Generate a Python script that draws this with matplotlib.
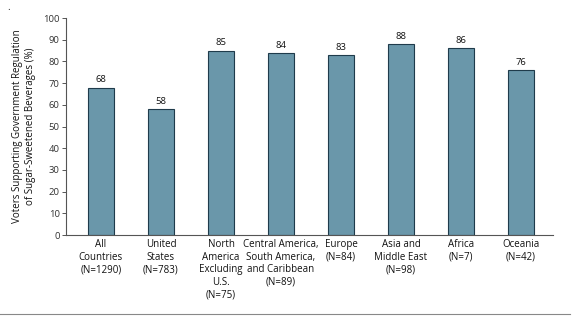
import matplotlib
matplotlib.use("Agg")
import matplotlib.pyplot as plt
from matplotlib.lines import Line2D

categories = [
    "All\nCountries\n(N=1290)",
    "United\nStates\n(N=783)",
    "North\nAmerica\nExcluding\nU.S.\n(N=75)",
    "Central America,\nSouth America,\nand Caribbean\n(N=89)",
    "Europe\n(N=84)",
    "Asia and\nMiddle East\n(N=98)",
    "Africa\n(N=7)",
    "Oceania\n(N=42)",
]
support_pct = [68, 58, 85, 84, 83, 88, 86, 76]
y_ticks = list(range(0, 101, 10))

plt.rcParams["font.family"] = ["Open Sans", "DejaVu Sans"]

fig = plt.figure(figsize=(5.86, 3.23), dpi=100)
ax = fig.add_axes([0.1126, 0.2724, 0.8311, 0.6716])

x = list(range(len(categories)))
ax.bar(x, support_pct, width=0.43, color="#6a97aa", edgecolor="#1f3b4b", linewidth=0.8)
for xi, v in zip(x, support_pct):
    ax.text(xi, v + 1.5, str(v), ha="center", va="bottom", fontsize=6.8, color="#111111")

ax.set_xlim(-0.583, 7.533)
ax.set_ylim(0, 100)
ax.set_yticks(y_ticks)
ax.set_yticklabels([str(t) for t in y_ticks], fontsize=6.8, color="#333333")
ax.set_xticks(x)
ax.set_xticklabels(categories, fontsize=7, color="#111111", linespacing=1.2)
ax.tick_params(axis="x", length=0, pad=3)
ax.tick_params(axis="y", length=3, width=0.7, pad=1.5, color="#555555")

for s in ["top", "right"]:
    ax.spines[s].set_visible(False)
for s in ["left", "bottom"]:
    ax.spines[s].set_linewidth(0.8)
    ax.spines[s].set_color("#555555")

ax.set_ylabel("Voters Supporting Government Regulation\nof Sugar-Sweetened Beverages (%)",
              fontsize=7, color="#111111", labelpad=5, linespacing=1.25)

# rule across the bottom of the figure
fig.add_artist(Line2D([0.0, 0.973], [1 - 314 / 323, 1 - 314 / 323],
                      transform=fig.transFigure, color="#888888", linewidth=0.8))
fig.text(7 / 586, 1 - 10 / 323, ".", fontsize=7, color="#222222")

fig.savefig("out.png", dpi=100)
